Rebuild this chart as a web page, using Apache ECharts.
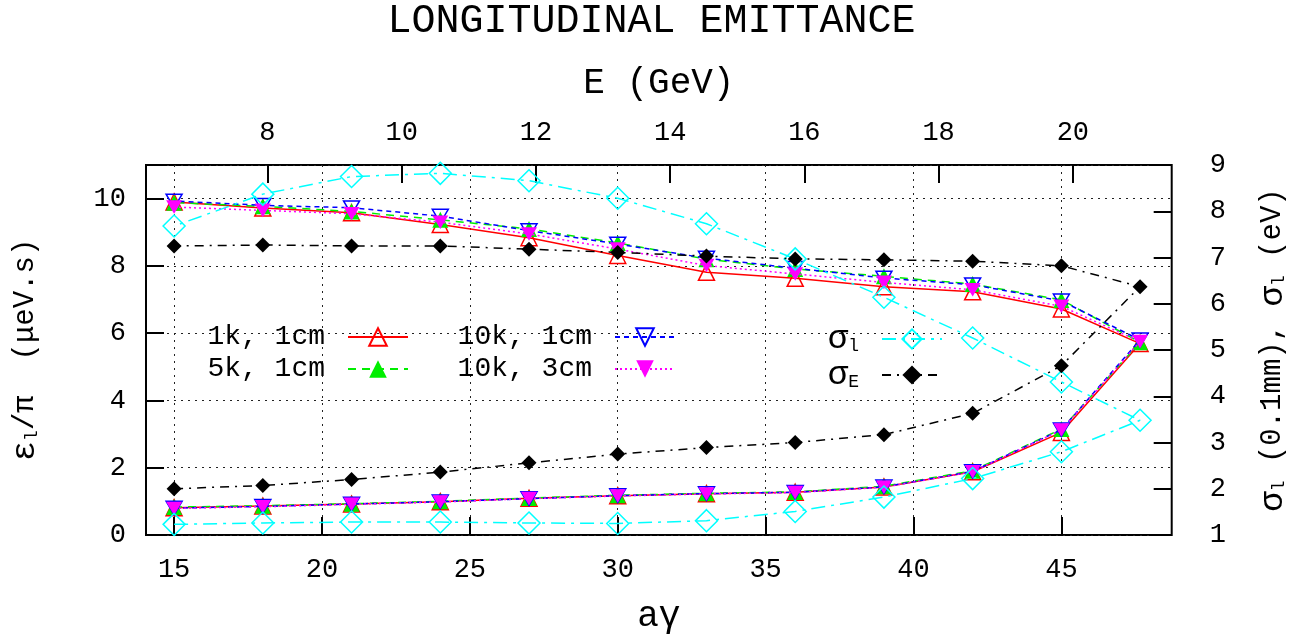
<!DOCTYPE html>
<html><head><meta charset="utf-8">
<script src="https://cdn.jsdelivr.net/npm/echarts@6/dist/echarts.min.js"></script>
<style>html,body{margin:0;padding:0;background:#fff}#c{width:1303px;height:644px}</style>
</head><body><div id="c"></div>
<script>
// aγ positions: lower branch going right, then upper branch coming back
const agamma = [15,18,21,24,27,30,33,36,39,42,45,47.66,45,42,39,36,33,30,27,24,21,18,15];
const emit1k1cm  = [0.81,0.86,0.92,0.99,1.09,1.17,1.23,1.27,1.43,1.88,3.05,5.69, 6.72,7.23,7.38,7.63,7.81,8.31,8.84,9.23,9.58,9.72,9.90];
const emit5k1cm  = [0.83,0.87,0.93,1.00,1.10,1.18,1.24,1.28,1.45,1.91,3.15,5.73, 6.99,7.46,7.69,7.91,8.20,8.68,9.10,9.37,9.62,9.77,9.88];
const emit10k1cm = [0.80,0.85,0.92,0.99,1.08,1.17,1.23,1.27,1.43,1.89,3.13,5.80, 6.96,7.44,7.64,7.93,8.23,8.65,9.05,9.48,9.73,9.80,9.93];
const emit10k3cm = [0.79,0.84,0.91,0.98,1.08,1.16,1.22,1.26,1.42,1.88,3.12,5.75, 6.80,7.29,7.51,7.76,8.01,8.50,8.95,9.30,9.55,9.65,9.75];
const sigmaL = [1.23,1.26,1.28,1.28,1.26,1.25,1.31,1.51,1.82,2.22,2.80,3.48, 4.31,5.26,6.14,6.97,7.73,8.28,8.66,8.82,8.75,8.37,7.68];
const sigmaE = [2.00,2.07,2.20,2.36,2.56,2.75,2.89,3.00,3.17,3.63,4.66,6.37, 6.82,6.92,6.95,6.97,7.03,7.11,7.18,7.25,7.25,7.27,7.25];
const bottomTicks = [15,20,25,30,35,40,45];
const topTicks = [8,10,12,14,16,18,20];
const xRange = [14.05, 48.73];
const eRange = [6.191, 21.473];
const leftRange = [0, 11];
const rightRange = [1, 9];

const FONT = "'Liberation Mono', 'DejaVu Sans Mono', monospace";
const downTri = 'path://M0 0L20 0L10 17Z';

function mk(name, vals, color, symbol, size, filled, dash, yIdx, z) {
  return {
    name: name, type: 'line', xAxisIndex: 0, yAxisIndex: yIdx, z: z,
    data: agamma.map((x, i) => [x, vals[i]]),
    symbol: symbol, symbolSize: size, symbolKeepAspect: true,
    lineStyle: { color: color, width: 1.5, type: dash },
    itemStyle: filled ? { color: color, borderWidth: 0 }
                      : { color: 'rgba(0,0,0,0)', borderColor: color, borderWidth: 1.5 },
    emphasis: { disabled: true }, silent: true, animation: false
  };
}

const sub = { fontFamily: FONT, fontSize: 18, lineHeight: 18, padding: [14, 0, 0, 0], color: '#000' };
const gr = { fontFamily: FONT, fontSize: 34, lineHeight: 30, color: '#000' };
const subL = { fontFamily: FONT, fontSize: 18, lineHeight: 14, padding: [14, 0, 0, 0], color: '#000' };
const grL = { fontFamily: FONT, fontSize: 34, lineHeight: 28, color: '#000' };

const chart = echarts.init(document.getElementById('c'), null, { renderer: 'canvas' });
chart.setOption({
  animation: false,
  backgroundColor: '#fff',
  title: { text: 'LONGITUDINAL EMITTANCE', left: 'center', top: -4,
    textStyle: { fontFamily: FONT, fontSize: 40, fontWeight: 'normal', color: '#000' } },
  grid: { left: 144.7, right: 131.3, top: 165, bottom: 109, show: true,
    borderColor: '#000', borderWidth: 2, backgroundColor: 'transparent', containLabel: false },
  xAxis: [
    { type: 'value', position: 'bottom', min: xRange[0], max: xRange[1],
      name: 'aγ', nameLocation: 'middle', nameGap: 63,
      nameTextStyle: { fontFamily: FONT, fontSize: 36, color: '#000' },
      axisLine: { show: false },
      axisTick: { show: true, inside: true, length: 18, customValues: bottomTicks, lineStyle: { color: '#000', width: 2 } },
      axisLabel: { customValues: bottomTicks, margin: 21, fontFamily: FONT, fontSize: 27, color: '#000' },
      splitLine: { show: true, lineStyle: { color: '#222', width: 1, type: [2, 5] } } },
    { type: 'value', position: 'top', min: eRange[0], max: eRange[1],
      name: 'E (GeV)', nameLocation: 'middle', nameGap: 64,
      nameTextStyle: { fontFamily: FONT, fontSize: 36, color: '#000' },
      axisLine: { show: false },
      axisTick: { show: true, inside: true, length: 18, customValues: topTicks, lineStyle: { color: '#000', width: 2 } },
      axisLabel: { customValues: topTicks, margin: 19, fontFamily: FONT, fontSize: 27, color: '#000' },
      splitLine: { show: false } }
  ],
  yAxis: [
    { type: 'value', position: 'left', min: leftRange[0], max: leftRange[1], interval: 2,
      name: '{g|ε}{s|l}/π  (μeV.s)', nameLocation: 'middle', nameGap: 106, nameRotate: 90,
      nameTextStyle: { fontFamily: FONT, fontSize: 29, color: '#000', rich: { g: gr, s: sub } },
      axisLine: { show: false },
      axisTick: { show: true, inside: true, length: 18, lineStyle: { color: '#000', width: 2 } },
      axisLabel: { margin: 20, fontFamily: FONT, fontSize: 27, color: '#000',
        formatter: v => (v > 10.5 ? '' : String(v)) },
      splitLine: { show: true, lineStyle: { color: '#222', width: 1, type: [2, 5] } } },
    { type: 'value', position: 'right', min: rightRange[0], max: rightRange[1], interval: 1,
      name: '{g|σ}{s|l} (0.1mm), {g|σ}{s|l} (eV)', nameLocation: 'middle', nameGap: 86, nameRotate: 90,
      nameTextStyle: { fontFamily: FONT, fontSize: 29, color: '#000', rich: { g: gr, s: sub } },
      axisLine: { show: false },
      axisTick: { show: true, inside: true, length: 18, lineStyle: { color: '#000', width: 2 } },
      axisLabel: { margin: 38, fontFamily: FONT, fontSize: 27, color: '#000' },
      splitLine: { show: false } }
  ],
  legend: [
    { data: ['1k, 1cm', '5k, 1cm'], orient: 'vertical', right: 889, top: 318, align: 'right',
      itemWidth: 60, itemHeight: 22, itemGap: 4, selectedMode: false,
      textStyle: { fontFamily: FONT, fontSize: 28, lineHeight: 28, color: '#000', padding: [0, 18, 0, 0] } },
    { data: ['10k, 1cm', '10k, 3cm'], orient: 'vertical', right: 622, top: 318, align: 'right',
      itemWidth: 60, itemHeight: 22, itemGap: 4, selectedMode: false,
      textStyle: { fontFamily: FONT, fontSize: 28, lineHeight: 28, color: '#000', padding: [0, 18, 0, 0] } },
    { data: ['sigma_l', 'sigma_E'], orient: 'vertical', right: 355, top: 317, align: 'right',
      itemWidth: 60, itemHeight: 24, itemGap: 2, selectedMode: false,
      formatter: n => n === 'sigma_l' ? '{g|σ}{s|l}' : '{g|σ}{s|E}',
      textStyle: { fontFamily: FONT, fontSize: 28, lineHeight: 28, color: '#000', padding: [0, 18, 0, 0],
        rich: { g: grL, s: subL } } }
  ],
  series: [
    mk('1k, 1cm', emit1k1cm, '#ff0000', 'triangle', 16, false, 'solid', 0, 2),
    mk('5k, 1cm', emit5k1cm, '#00ee00', 'triangle', 16, true, [8, 6], 0, 3),
    mk('10k, 1cm', emit10k1cm, '#0000ff', downTri, 16, false, [5, 4], 0, 4),
    mk('10k, 3cm', emit10k3cm, '#ff00ff', downTri, 16, true, [2, 3], 0, 5),
    mk('sigma_l', sigmaL, '#00ffff', 'diamond', 22, false, [14, 6, 3, 6], 1, 6),
    mk('sigma_E', sigmaE, '#000000', 'diamond', 15, true, [9, 6, 2, 6], 1, 7)
  ]
});
</script></body></html>
